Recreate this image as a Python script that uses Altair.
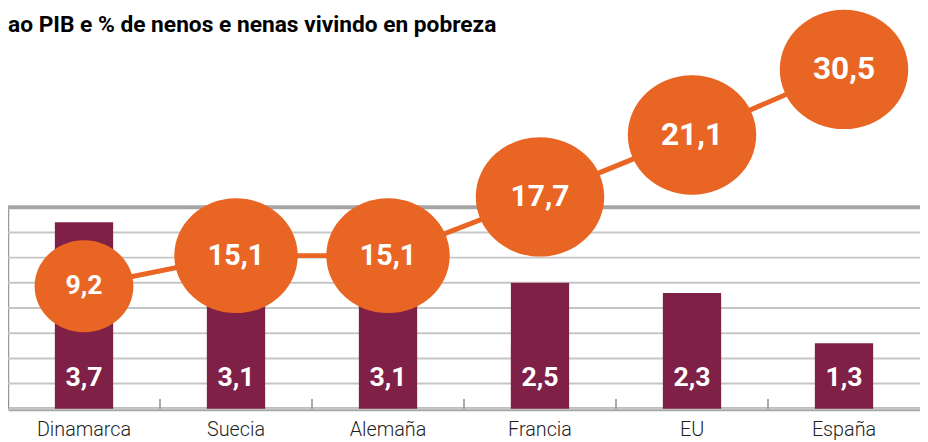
import altair as alt
import pandas as pd

# ---- data ----
categories = ["Dinamarca", "Suecia", "Alemaña", "Francia", "EU", "España"]
spending = [3.7, 3.1, 3.1, 2.5, 2.3, 1.3]          # bars (% of GDP)
poverty = [9.2, 15.1, 15.1, 17.7, 21.1, 30.5]       # circles (% children in poverty)
title_text = ["ao PIB e % de nenos e nenas vivindo en pobreza"]
grid_values = [0, 0.5, 1, 1.5, 2, 2.5, 3, 3.5, 4]

df = pd.DataFrame({"pais": categories, "gasto": spending, "pobreza": poverty})
title_df = pd.DataFrame({"t": title_text})
grid_df = pd.DataFrame({"g": grid_values})

MAROON = "#7f2047"
ORANGE = "#e96524"
ELLIPSE = "M-1,0A1,0.93,0,1,1,1,0A1,0.93,0,1,1,-1,0Z"

x_scale = alt.Scale(paddingInner=0, paddingOuter=0)
x_axis = alt.Axis(title=None, labelAngle=0, ticks=False, domain=True,
                  domainColor="#a6a6a6", domainWidth=4,
                  labelFont="Roboto", labelFontSize=20, labelFontWeight=300,
                  labelColor="#1f1f1f", labelPadding=11)
X = alt.X("pais:N", sort=categories, scale=x_scale, axis=x_axis)

y_scale_bar = alt.Scale(domain=[0, 4], nice=False, zero=True)
y_axis_bar = alt.Axis(title=None, labels=False, ticks=False, grid=False,
                      domain=True, domainColor="#9a9a9a", domainWidth=1.5)

base = alt.Chart(df)

# horizontal grid lines every 0.5
grid = alt.Chart(grid_df).mark_rule(color="#c6c6c6", strokeWidth=2).encode(
    y=alt.Y("g:Q", scale=y_scale_bar, axis=y_axis_bar)
)

bars = base.mark_bar(color=MAROON, size=59).encode(
    x=X,
    y=alt.Y("gasto:Q", scale=y_scale_bar, axis=y_axis_bar),
)

bar_labels = base.transform_calculate(
    lbl="replace(format(datum.gasto, '.1f'), '.', ',')"
).mark_text(color="white", font="Roboto", fontWeight="bold", fontSize=27,
            baseline="middle").encode(
    x=X, y=alt.value(173), text="lbl:N"
)

top_line = alt.Chart(title_df).mark_rule(color="#a6a6a6", strokeWidth=4).encode(
    y=alt.Y(datum=4, scale=y_scale_bar, axis=y_axis_bar)
)

band_ticks = base.mark_rule(color="#8c8c8c", strokeWidth=1.5).encode(
    x=alt.X("pais:N", sort=categories, scale=x_scale, axis=x_axis, bandPosition=0),
    y=alt.value(194), y2=alt.value(204),
)

bar_group = alt.layer(grid, bars, top_line, band_ticks, bar_labels)

y_line = alt.Y("pobreza:Q",
               scale=alt.Scale(domain=[9.2, 15.1, 17.7, 21.1, 30.5],
                               range=[80, 49, -10.5, -73, -139.5],
                               nice=False, zero=False),
               axis=None)

line = base.mark_line(color=ORANGE, strokeWidth=5).encode(x=X, y=y_line)

points = base.mark_point(filled=True, shape=ELLIPSE, color=ORANGE, opacity=1,
                         strokeWidth=0).encode(
    x=X, y=y_line,
    size=alt.Size("pobreza:Q",
                  scale=alt.Scale(domain=[9.2, 15.1, 17.7], range=[10000, 15600, 16900],
                                  clamp=True, zero=False, nice=False),
                  legend=None),
)

point_labels = base.transform_calculate(
    lbl="replace(format(datum.pobreza, '.1f'), '.', ',')"
).mark_text(color="white", font="Roboto", fontWeight="bold", baseline="middle").encode(
    x=X, y=y_line, text="lbl:N",
    size=alt.Size("pobreza:Q",
                  scale=alt.Scale(domain=[9.2, 15.1, 21.1], range=[27, 29, 32],
                                  clamp=True, zero=False, nice=False),
                  legend=None),
)

line_group = alt.layer(line, points, point_labels).resolve_scale(size="independent")

title = alt.Chart(title_df).mark_text(
    font="Roboto", fontWeight="bold", fontSize=23, color="#000000",
    align="left", baseline="alphabetic"
).encode(x=alt.value(0), y=alt.value(-177), text="t:N")

chart = alt.layer(bar_group, line_group, title).resolve_scale(
    y="independent", size="independent"
).properties(
    width=923, height=204,
    padding={"left": 0, "top": 199, "right": 0, "bottom": 34},
    autosize=alt.AutoSizeParams(type="none"),
).configure_view(stroke=None)

chart.save("out.html", embed_options={"renderer": "svg", "actions": False})
